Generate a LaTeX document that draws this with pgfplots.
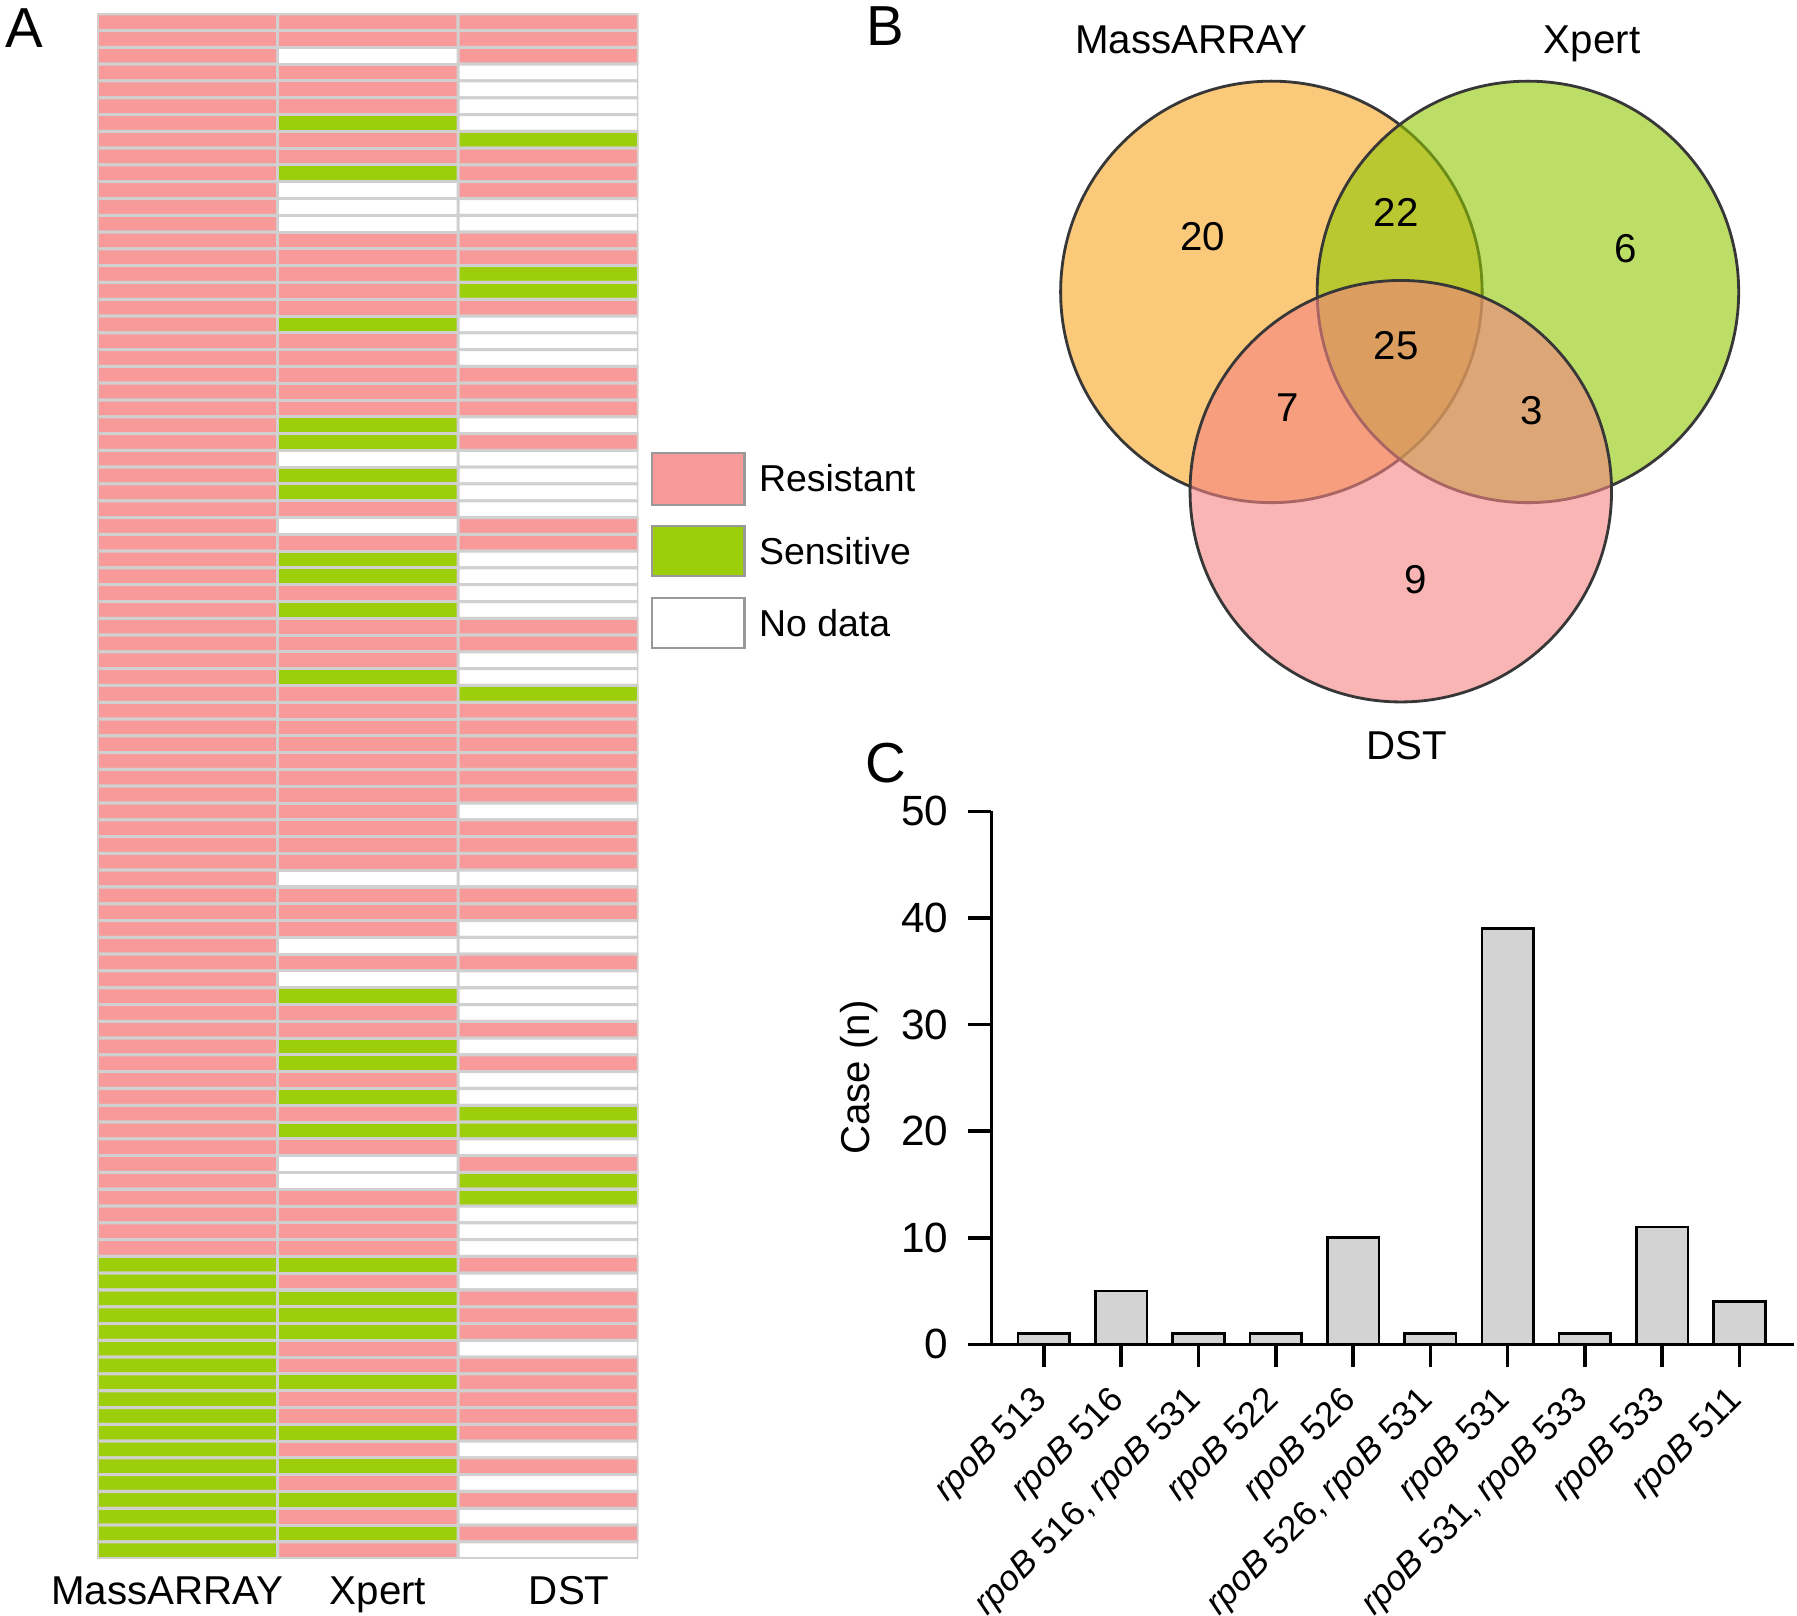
\documentclass[border=0pt]{standalone}
\usepackage{pgfplots}
\pgfplotsset{compat=1.18}
\usepackage{fontspec}
\setmainfont{Liberation Sans}

\definecolor{resist}{RGB}{249,154,154}
\definecolor{sensit}{RGB}{157,206,12}
\definecolor{gridgray}{RGB}{208,208,208}
\definecolor{barfill}{RGB}{211,211,211}
\definecolor{vennO}{RGB}{248,165,33}
\definecolor{vennG}{RGB}{143,198,0}
\definecolor{vennP}{RGB}{245,130,130}
\definecolor{vennline}{RGB}{55,55,55}

\begin{document}
\begin{tikzpicture}
\useasboundingbox (0,0) rectangle (15.68,14.10);

% ---- A: heatmap (2 = resistant, 1 = sensitive, 0 = no data)
\begin{axis}[
  at={(0.85cm,0.50cm)}, anchor=south west,
  scale only axis, width=4.72cm, height=13.48cm,
  xmin=-0.5, xmax=2.5, ymin=0.5, ymax=92.5, y dir=reverse,
  hide axis,
  colormap={hm}{color(0)=(white) color(1)=(sensit) color(2)=(resist)},
  point meta min=0, point meta max=2,
]
\addplot[matrix plot*, shader=faceted, faceted color=gridgray, line width=0.75pt,
  mesh/cols=3, point meta=explicit]
  table[meta=c, row sep=\\] {
x y c \\
0 1 2 \\ 1 1 2 \\ 2 1 2 \\
0 2 2 \\ 1 2 2 \\ 2 2 2 \\
0 3 2 \\ 1 3 0 \\ 2 3 2 \\
0 4 2 \\ 1 4 2 \\ 2 4 0 \\
0 5 2 \\ 1 5 2 \\ 2 5 0 \\
0 6 2 \\ 1 6 2 \\ 2 6 0 \\
0 7 2 \\ 1 7 1 \\ 2 7 0 \\
0 8 2 \\ 1 8 2 \\ 2 8 1 \\
0 9 2 \\ 1 9 2 \\ 2 9 2 \\
0 10 2 \\ 1 10 1 \\ 2 10 2 \\
0 11 2 \\ 1 11 0 \\ 2 11 2 \\
0 12 2 \\ 1 12 0 \\ 2 12 0 \\
0 13 2 \\ 1 13 0 \\ 2 13 0 \\
0 14 2 \\ 1 14 2 \\ 2 14 2 \\
0 15 2 \\ 1 15 2 \\ 2 15 2 \\
0 16 2 \\ 1 16 2 \\ 2 16 1 \\
0 17 2 \\ 1 17 2 \\ 2 17 1 \\
0 18 2 \\ 1 18 2 \\ 2 18 2 \\
0 19 2 \\ 1 19 1 \\ 2 19 0 \\
0 20 2 \\ 1 20 2 \\ 2 20 0 \\
0 21 2 \\ 1 21 2 \\ 2 21 0 \\
0 22 2 \\ 1 22 2 \\ 2 22 2 \\
0 23 2 \\ 1 23 2 \\ 2 23 2 \\
0 24 2 \\ 1 24 2 \\ 2 24 2 \\
0 25 2 \\ 1 25 1 \\ 2 25 0 \\
0 26 2 \\ 1 26 1 \\ 2 26 2 \\
0 27 2 \\ 1 27 0 \\ 2 27 0 \\
0 28 2 \\ 1 28 1 \\ 2 28 0 \\
0 29 2 \\ 1 29 1 \\ 2 29 0 \\
0 30 2 \\ 1 30 2 \\ 2 30 0 \\
0 31 2 \\ 1 31 0 \\ 2 31 2 \\
0 32 2 \\ 1 32 2 \\ 2 32 2 \\
0 33 2 \\ 1 33 1 \\ 2 33 0 \\
0 34 2 \\ 1 34 1 \\ 2 34 0 \\
0 35 2 \\ 1 35 2 \\ 2 35 0 \\
0 36 2 \\ 1 36 1 \\ 2 36 0 \\
0 37 2 \\ 1 37 2 \\ 2 37 2 \\
0 38 2 \\ 1 38 2 \\ 2 38 2 \\
0 39 2 \\ 1 39 2 \\ 2 39 0 \\
0 40 2 \\ 1 40 1 \\ 2 40 0 \\
0 41 2 \\ 1 41 2 \\ 2 41 1 \\
0 42 2 \\ 1 42 2 \\ 2 42 2 \\
0 43 2 \\ 1 43 2 \\ 2 43 2 \\
0 44 2 \\ 1 44 2 \\ 2 44 2 \\
0 45 2 \\ 1 45 2 \\ 2 45 2 \\
0 46 2 \\ 1 46 2 \\ 2 46 2 \\
0 47 2 \\ 1 47 2 \\ 2 47 2 \\
0 48 2 \\ 1 48 2 \\ 2 48 0 \\
0 49 2 \\ 1 49 2 \\ 2 49 2 \\
0 50 2 \\ 1 50 2 \\ 2 50 2 \\
0 51 2 \\ 1 51 2 \\ 2 51 2 \\
0 52 2 \\ 1 52 0 \\ 2 52 0 \\
0 53 2 \\ 1 53 2 \\ 2 53 2 \\
0 54 2 \\ 1 54 2 \\ 2 54 2 \\
0 55 2 \\ 1 55 2 \\ 2 55 0 \\
0 56 2 \\ 1 56 0 \\ 2 56 0 \\
0 57 2 \\ 1 57 2 \\ 2 57 2 \\
0 58 2 \\ 1 58 0 \\ 2 58 0 \\
0 59 2 \\ 1 59 1 \\ 2 59 0 \\
0 60 2 \\ 1 60 2 \\ 2 60 0 \\
0 61 2 \\ 1 61 2 \\ 2 61 2 \\
0 62 2 \\ 1 62 1 \\ 2 62 0 \\
0 63 2 \\ 1 63 1 \\ 2 63 2 \\
0 64 2 \\ 1 64 2 \\ 2 64 0 \\
0 65 2 \\ 1 65 1 \\ 2 65 0 \\
0 66 2 \\ 1 66 2 \\ 2 66 1 \\
0 67 2 \\ 1 67 1 \\ 2 67 1 \\
0 68 2 \\ 1 68 2 \\ 2 68 0 \\
0 69 2 \\ 1 69 0 \\ 2 69 2 \\
0 70 2 \\ 1 70 0 \\ 2 70 1 \\
0 71 2 \\ 1 71 2 \\ 2 71 1 \\
0 72 2 \\ 1 72 2 \\ 2 72 0 \\
0 73 2 \\ 1 73 2 \\ 2 73 0 \\
0 74 2 \\ 1 74 2 \\ 2 74 0 \\
0 75 1 \\ 1 75 1 \\ 2 75 2 \\
0 76 1 \\ 1 76 2 \\ 2 76 0 \\
0 77 1 \\ 1 77 1 \\ 2 77 2 \\
0 78 1 \\ 1 78 1 \\ 2 78 2 \\
0 79 1 \\ 1 79 1 \\ 2 79 2 \\
0 80 1 \\ 1 80 2 \\ 2 80 0 \\
0 81 1 \\ 1 81 2 \\ 2 81 2 \\
0 82 1 \\ 1 82 1 \\ 2 82 2 \\
0 83 1 \\ 1 83 2 \\ 2 83 2 \\
0 84 1 \\ 1 84 2 \\ 2 84 2 \\
0 85 1 \\ 1 85 1 \\ 2 85 2 \\
0 86 1 \\ 1 86 2 \\ 2 86 0 \\
0 87 1 \\ 1 87 1 \\ 2 87 2 \\
0 88 1 \\ 1 88 2 \\ 2 88 0 \\
0 89 1 \\ 1 89 1 \\ 2 89 2 \\
0 90 1 \\ 1 90 2 \\ 2 90 0 \\
0 91 1 \\ 1 91 1 \\ 2 91 2 \\
0 92 1 \\ 1 92 2 \\ 2 92 0 \\
};
\end{axis}

% ---- C: bar chart
\begin{axis}[
  at={(8.65cm,2.37cm)}, anchor=south west,
  scale only axis, width=7.00cm, height=4.65cm,
  xmin=-0.68, xmax=9.70, ymin=0, ymax=50,
  enlargelimits=false,
  axis lines=left,
  axis line style={-, line width=0.9pt},
  ytick={0,10,20,30,40,50},
  xtick={0,1,2,3,4,5,6,7,8,9},
  xticklabels={{\textit{rpoB} 513},{\textit{rpoB} 516},{\textit{rpoB} 516, \textit{rpoB} 531},
    {\textit{rpoB} 522},{\textit{rpoB} 526},{\textit{rpoB} 526, \textit{rpoB} 531},
    {\textit{rpoB} 531},{\textit{rpoB} 531, \textit{rpoB} 533},{\textit{rpoB} 533},{\textit{rpoB} 511}},
  tick align=outside,
  major tick length=0.2cm,
  tick style={line width=0.9pt, black},
  /pgf/number format/assume math mode=true,
  yticklabel style={font=\fontsize{10.5}{12}\selectfont, xshift=-0.05cm},
  xticklabel style={font=\fontsize{8.7}{10}\selectfont, xshift=0.07cm, yshift=-0.16cm, rotate=45, anchor=east},
  ybar, bar width=0.45cm,
]
\addplot[fill=barfill, draw=black, line width=0.65pt]
  coordinates {(0,1) (1,5) (2,1) (3,1) (4,10) (5,1) (6,39) (7,1) (8,11) (9,4)};
\end{axis}

% ---- overlay: Venn diagram, legend and labels (units = px of the layout)
\begin{axis}[
  at={(0,0)}, anchor=south west,
  x=0.01cm, y=0.01cm,
  xmin=0, xmax=1568, ymin=0, ymax=1410, y dir=reverse,
  hide axis, clip=false,
]
\filldraw[fill=vennO, fill opacity=0.6, draw=vennline, line width=0.7pt] (1110,254) circle[radius=184];
\filldraw[fill=vennG, fill opacity=0.6, draw=vennline, line width=0.7pt] (1334,254) circle[radius=184];
\filldraw[fill=vennP, fill opacity=0.6, draw=vennline, line width=0.7pt] (1223,428) circle[radius=184];

\begingroup
\fontsize{10.5}{12}\selectfont
\node at (1050,206) {20};
\node at (1219,185) {22};
\node at (1419,216) {6};
\node at (1219,301) {25};
\node at (1124,355) {7};
\node at (1337,358) {3};
\node at (1236,505) {9};
\endgroup

\node[anchor=base, font=\fontsize{10}{12}\selectfont] at (1040,46) {MassARRAY};
\node[anchor=base, font=\fontsize{10}{12}\selectfont] at (1390,46) {Xpert};
\node[anchor=base, font=\fontsize{10}{12}\selectfont] at (1228,662) {DST};

\node[anchor=base, font=\fontsize{10}{12}\selectfont] at (146,1400) {MassARRAY};
\node[anchor=base, font=\fontsize{10}{12}\selectfont] at (330,1400) {Xpert};
\node[anchor=base, font=\fontsize{10}{12}\selectfont] at (497,1400) {DST};

% legend
\filldraw[fill=resist, draw=gray!80, line width=0.5pt] (569,395) rectangle (650,440);
\filldraw[fill=sensit, draw=gray!80, line width=0.5pt] (569,458) rectangle (650,502);
\filldraw[fill=white, draw=gray!80, line width=0.5pt] (569,521) rectangle (650,565);
\node[anchor=west, inner sep=0pt, font=\fontsize{9.3}{11}\selectfont] at (662,417) {Resistant};
\node[anchor=west, inner sep=0pt, font=\fontsize{9.3}{11}\selectfont] at (662,480) {Sensitive};
\node[anchor=west, inner sep=0pt, font=\fontsize{9.3}{11}\selectfont] at (662,543) {No data};

\node[rotate=90, font=\fontsize{10}{12}\selectfont] at (750,940) {Case (n)};

\node[font=\fontsize{14}{16}\selectfont] at (21,24) {A};
\node[font=\fontsize{14}{16}\selectfont] at (773,22) {B};
\node[font=\fontsize{14}{16}\selectfont] at (773,665) {C};
\end{axis}
\end{tikzpicture}
\end{document}
